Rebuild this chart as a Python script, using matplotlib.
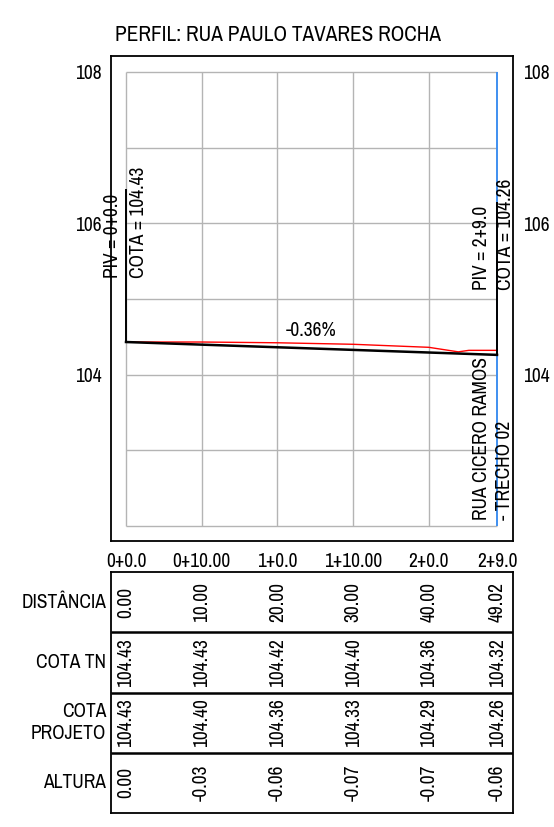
import matplotlib
matplotlib.use("Agg")
import matplotlib.pyplot as plt

plt.rcParams['font.family'] = ['Liberation Sans Narrow', 'Archivo Narrow', 'Liberation Sans', 'DejaVu Sans']

# Data
title = "PERFIL: RUA PAULO TAVARES ROCHA"
distancia = [0.00, 10.00, 20.00, 30.00, 40.00, 49.02]
estacas = ["0+0.0", "0+10.00", "1+0.0", "1+10.00", "2+0.0", "2+9.0"]
cota_tn = [104.43, 104.43, 104.42, 104.40, 104.36, 104.32]
cota_projeto = [104.43, 104.40, 104.36, 104.33, 104.29, 104.26]
altura = [0.00, -0.03, -0.06, -0.07, -0.07, -0.06]

# terrain line as drawn (with the small dip near the end)
terreno_x = [0.00, 10.00, 20.00, 30.00, 40.00, 43.9, 45.3, 49.02]
terreno_y = [104.43, 104.43, 104.42, 104.40, 104.36, 104.30, 104.32, 104.32]

declividade = "-0.36%"
rua_cruzamento = ["RUA CICERO RAMOS", "- TRECHO 02"]
row_names = ["DISTÂNCIA", "COTA TN", "COTA\nPROJETO", "ALTURA"]

y_min, y_max = 102, 108
fs = 14

fig = plt.figure(figsize=(5.54, 8.27), dpi=100)
ax = fig.add_axes([0.2004, 0.3458, 0.7256, 0.5865])
tab = fig.add_axes([0.2004, 0.0169, 0.7256, 0.2914])

x0, x1 = distancia[0], distancia[-1]
xlim = (x0 - 1.98, x1 + 2.11)
ax.set_xlim(*xlim)
ax.set_ylim(y_min - 0.2, y_max + 0.21)

# inner grid
grid_c = '#b4b4b4'
ax.hlines(range(y_min, y_max + 1), x0, x1, color=grid_c, lw=1.0, zorder=1)
ax.vlines(distancia[:-1], y_min, y_max, color=grid_c, lw=1.0, zorder=1)
ax.vlines(x1, y_min, y_max, color='#3f8ff0', lw=1.4, zorder=2)

# terrain and project lines
ax.plot(terreno_x, terreno_y, color='red', lw=1.0, zorder=3)
ax.plot([x0, x1], [cota_projeto[0], cota_projeto[-1]], color='black', lw=1.8, zorder=4)

# PIV markers
for xi, cota in [(x0, cota_projeto[0]), (x1, cota_projeto[-1])]:
    ax.vlines(xi, cota, cota + 2.02, color='black', lw=1.4, zorder=5)
ax.text(-1.8, cota_projeto[0] + 0.85, "PIV = " + estacas[0], rotation=90,
        ha='center', va='bottom', fontsize=fs)
ax.text(1.6, cota_projeto[0] + 0.85, f"COTA = {cota_projeto[0]:.2f}", rotation=90,
        ha='center', va='bottom', fontsize=fs)
ax.text(x1 - 2.0, cota_projeto[-1] + 0.86, "PIV = " + estacas[-1], rotation=90,
        ha='center', va='bottom', fontsize=fs)
ax.text(x1 + 1.1, cota_projeto[-1] + 0.86, f"COTA = {cota_projeto[-1]:.2f}", rotation=90,
        ha='center', va='bottom', fontsize=fs)

ax.text((x0 + x1) / 2, 104.58, declividade, ha='center', va='center', fontsize=fs)
ax.text(x1 - 2.1, 102.08, rua_cruzamento[0], rotation=90, ha='center', va='bottom', fontsize=fs)
ax.text(x1 + 1.05, 102.08, rua_cruzamento[1], rotation=90, ha='center', va='bottom', fontsize=fs)

# ticks
ax.set_yticks([104, 106, 108])
ax.set_yticklabels(["104", "106", "108"])
ax.set_xticks(distancia)
ax.set_xticklabels(estacas)
ax.tick_params(axis='both', length=0, labelsize=fs)
ax.tick_params(axis='y', left=True, right=True, labelleft=True, labelright=True, pad=7)
ax.tick_params(axis='x', pad=8)
for s in ax.spines.values():
    s.set_linewidth(1.3)

fig.text(0.502, 0.9577, title, ha='center', va='center', fontsize=15.3)

# table
tab.set_xlim(*xlim)
tab.set_ylim(0, 4)
tab.set_xticks([])
tab.set_yticks([])
for s in tab.spines.values():
    s.set_linewidth(1.3)
tab.hlines([1, 2, 3], *xlim, color='black', lw=1.8)

rows = [
    [f"{v:.2f}" for v in distancia],
    [f"{v:.2f}" for v in cota_tn],
    [f"{v:.2f}" for v in cota_projeto],
    [f"{v:.2f}" for v in altura],
]
for i, (name, vals) in enumerate(zip(row_names, rows)):
    yc = 3.5 - i
    tab.text(-2.6, yc, name, ha='right', va='center', fontsize=fs, multialignment='right')
    for xi, v in zip(distancia, vals):
        tab.text(xi, yc, v, rotation=90, ha='center', va='center', fontsize=fs)

fig.savefig("out.png", dpi=100)
